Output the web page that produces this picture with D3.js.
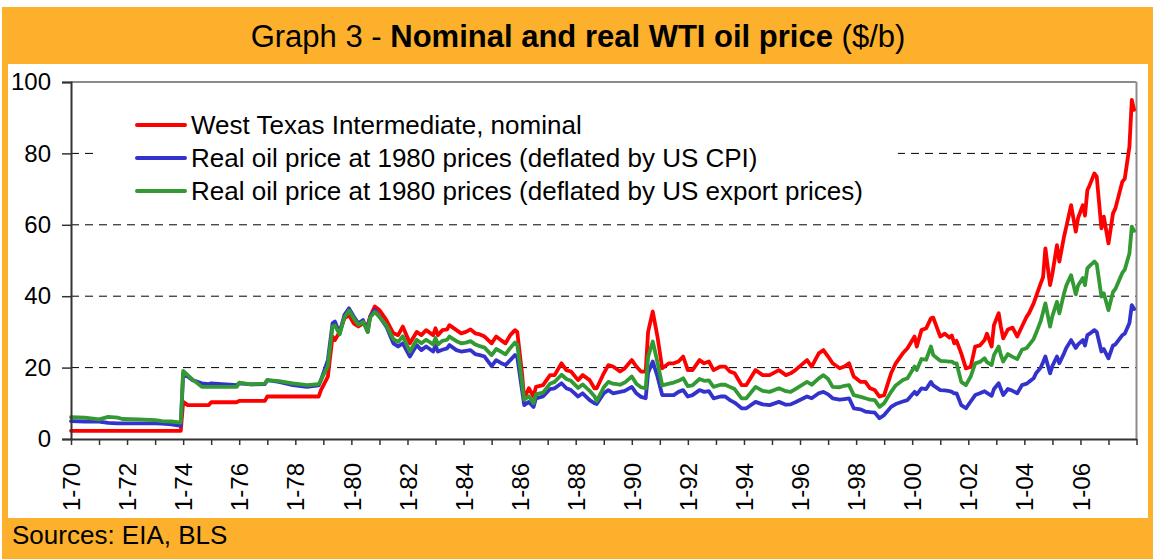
<!DOCTYPE html>
<html><head><meta charset="utf-8">
<script src="https://cdn.jsdelivr.net/npm/d3@7"></script>
<style>
html,body{margin:0;padding:0;background:#fff;}
text{font-family:"Liberation Sans",Arial,sans-serif;fill:#000;}
</style></head>
<body>
<svg id="chart" width="1155" height="559"></svg>
<script>
// ---- data ----
const dates = [
"1970-01","1970-07","1971-01","1971-05","1971-09","1971-11","1972-06","1973-01","1973-04","1973-08","1973-12",
"1974-01","1974-03","1974-05","1974-09","1974-12","1975-01","1975-12","1976-01","1976-06","1976-12",
"1977-01","1977-06","1977-12","1978-06","1978-11","1978-12",
"1979-03","1979-05","1979-06","1979-08","1979-10","1979-12","1980-02","1980-04","1980-06","1980-08","1980-09","1980-11",
"1981-01","1981-04","1981-07","1981-09","1981-11","1982-02","1982-05","1982-07","1982-09","1982-12",
"1983-01","1983-02","1983-04","1983-06","1983-07","1983-10","1983-12","1984-02","1984-04","1984-06","1984-08","1984-10",
"1985-01","1985-03","1985-05","1985-07","1985-09","1985-11","1985-12","1986-02","1986-03","1986-05","1986-07","1986-08","1986-11",
"1987-02","1987-04","1987-07","1987-09","1987-11","1988-02","1988-04","1988-07","1988-09","1988-10",
"1989-01","1989-03","1989-05","1989-08","1989-10","1990-01","1990-03","1990-05","1990-07","1990-08","1990-10","1990-12",
"1991-02","1991-05","1991-07","1991-09","1991-11","1992-01","1992-03","1992-06","1992-08","1992-10","1992-12",
"1993-03","1993-05","1993-07","1993-09","1993-12","1994-02","1994-06","1994-09","1994-12",
"1995-04","1995-07","1995-09","1995-11","1996-04","1996-06","1996-09","1996-11",
"1997-01","1997-03","1997-06","1997-08","1997-10","1997-12","1998-03","1998-05","1998-07","1998-09","1998-11",
"1999-01","1999-04","1999-06","1999-09","1999-11","2000-02","2000-03","2000-05","2000-07","2000-09","2000-10",
"2001-01","2001-03","2001-05","2001-06","2001-07","2001-08","2001-10","2001-12",
"2002-02","2002-04","2002-06","2002-08","2002-09","2002-11","2002-12",
"2003-02","2003-03","2003-04","2003-06","2003-08","2003-10","2003-12",
"2004-02","2004-03","2004-05","2004-06","2004-08","2004-09","2004-10","2004-12",
"2005-01","2005-03","2005-04","2005-06","2005-07","2005-09","2005-11","2005-12",
"2006-02","2006-03","2006-04","2006-05","2006-07","2006-08","2006-10","2006-11",
"2007-01","2007-03","2007-04","2007-07","2007-08","2007-10","2007-11","2007-12"
];
const wtiNominal = [
2.3,2.3,2.3,2.3,2.3,2.3,2.3,2.3,2.3,2.3,2.3,
10.4,9.5,9.5,9.5,9.5,10.3,10.3,10.7,10.7,10.7,
11.9,11.9,11.9,11.9,11.9,13.7,
17.5,28.7,27.7,30.0,33.8,34.7,32.4,31.5,32.4,31.8,34.3,37.1,
36.1,33.3,29.6,29.1,31.5,26.8,30.0,29.1,30.5,29.1,
31.0,29.1,30.5,30.7,31.9,30.5,29.6,30.0,30.7,29.6,29.3,28.7,
26.8,28.7,27.7,26.8,29.1,30.5,30.0,18.4,11.4,14.2,11.9,14.6,15.1,
17.9,17.9,21.2,19.3,18.9,16.5,17.9,16.5,14.2,14.2,
18.4,20.7,20.3,18.9,19.8,22.1,20.3,18.9,18.9,30.0,35.7,28.7,
19.8,21.2,21.2,21.7,23.1,19.3,19.3,22.1,21.2,21.7,19.3,
20.3,20.3,18.9,18.4,15.1,15.1,19.3,17.9,17.9,
19.3,17.9,18.4,19.3,22.1,20.3,24.0,24.9,
23.1,21.2,19.8,20.3,21.2,17.5,16.0,16.0,14.2,13.7,11.9,
12.3,18.4,21.2,24.0,25.4,28.7,25.9,30.5,31.0,33.8,34.0,
28.7,29.5,28.4,29.0,26.8,27.5,24.0,19.8,
20.2,25.9,26.2,27.7,29.5,25.9,31.9,
35.2,31.5,28.2,30.7,31.2,28.7,31.5,
34.3,35.2,38.0,39.9,43.6,45.3,53.4,43.1,
46.4,54.3,49.7,56.7,59.5,65.5,58.1,61.9,
65.5,62.6,69.7,71.1,74.4,73.5,59.0,62.3,
54.8,63.2,64.6,72.1,72.9,81.9,95.0,92.2
];
const realCPI = [
5.0,4.9,4.9,4.5,4.4,4.4,4.4,4.4,4.3,4.1,3.7,
18.3,17.5,16.5,15.6,15.4,15.6,15.1,15.6,15.3,15.4,
16.5,16.0,15.1,14.6,15.0,16.5,
22.1,32.4,32.9,29.6,34.7,36.6,34.3,32.4,33.3,30.0,34.3,36.1,
34.3,31.5,26.8,25.9,26.8,23.1,26.3,24.9,25.9,24.5,
26.3,24.5,25.0,25.4,26.3,24.9,24.5,24.7,24.9,23.8,23.5,23.1,
20.4,22.1,21.3,20.7,22.1,23.5,23.0,13.7,9.5,10.4,9.0,11.4,11.9,
14.0,14.2,15.6,14.2,13.7,11.9,12.8,10.9,10.0,9.8,
12.8,13.7,12.8,13.2,13.5,14.6,12.8,11.8,11.4,18.5,21.7,17.5,
12.3,12.3,12.3,13.2,13.7,11.9,12.3,13.7,13.2,13.4,11.4,
11.9,11.9,10.9,10.2,8.6,8.6,10.4,9.7,9.5,
10.4,9.6,9.7,10.3,11.9,11.4,12.8,13.2,
12.5,11.4,11.0,11.2,11.4,8.6,8.3,7.7,7.5,7.4,5.8,
6.7,9.0,9.8,10.5,10.9,13.2,12.5,14.2,14.0,16.0,15.0,
13.7,13.6,13.4,13.2,12.8,12.8,9.5,8.6,
10.5,12.3,12.8,13.4,12.9,12.1,14.0,
15.6,14.0,12.3,14.0,13.5,12.8,15.1,
15.5,16.0,17.0,18.4,20.0,21.5,23.1,18.4,
20.5,23.1,21.2,24.0,25.5,27.7,25.5,26.5,
27.7,26.2,29.1,29.5,30.5,30.0,24.5,25.2,
22.6,26.2,26.5,29.1,29.5,32.5,37.5,36.4
];
const realExport = [
6.1,6.0,5.5,6.2,6.0,5.6,5.5,5.3,5.0,4.9,4.6,
19.1,17.9,16.7,14.6,14.6,14.6,14.6,15.8,15.3,15.5,
16.5,16.2,15.6,15.1,15.4,16.5,
20.5,31.5,31.8,29.3,34.0,36.0,33.8,32.0,32.8,30.0,34.0,35.6,
34.2,31.8,28.0,27.2,28.8,24.5,27.8,26.8,27.8,26.5,
28.3,26.5,27.5,27.8,28.7,27.4,26.8,27.0,27.4,26.5,26.0,25.6,
23.5,25.2,24.5,23.7,25.5,27.0,26.5,15.8,11.0,12.0,10.0,12.5,13.0,
15.5,16.0,18.0,16.8,16.3,14.3,15.3,13.5,12.0,10.6,
14.5,16.0,15.5,15.2,15.8,17.5,15.5,14.5,14.2,23.0,27.3,21.5,
15.0,15.5,15.8,16.3,17.0,14.8,15.0,16.8,16.3,16.4,14.6,
15.2,15.2,14.6,14.0,11.4,11.4,14.6,13.5,13.2,
14.2,13.4,13.2,14.0,16.0,15.2,17.0,17.9,
16.8,14.6,14.5,14.9,15.1,12.3,11.8,11.4,11.0,10.9,9.0,
10.0,13.2,15.0,16.5,17.0,20.3,19.3,22.4,22.2,25.9,23.5,
21.9,21.8,21.7,21.7,21.2,21.2,16.0,15.1,
17.5,21.2,21.6,22.6,21.5,20.7,23.5,
25.9,23.5,21.7,23.8,23.0,22.4,25.0,
25.5,26.3,28.0,29.6,33.0,35.5,38.0,31.5,
34.5,38.4,35.2,40.8,43.0,45.9,40.5,43.0,
45.1,43.1,47.8,48.5,49.7,49.0,39.9,40.8,
36.1,41.2,42.0,46.6,47.4,52.0,59.5,58.3
];
const seriesNames = [
"West Texas Intermediate, nominal",
"Real oil price at 1980 prices (deflated by US CPI)",
"Real oil price at 1980 prices (deflated by US export prices)"
];
const seriesColors = ["#ff0000","#3333cc","#339933"];
const yTicks = [0,20,40,60,80,100];
const gridValues = [20,40,60,80];

// ---- drawing ----
const svg = d3.select("#chart");
const W = 1155, H = 559;
const orange = "#fcb02b";

svg.append("rect").attr("x",0).attr("y",0).attr("width",W).attr("height",H).attr("fill","#fff");
svg.append("rect").attr("x",2).attr("y",7).attr("width",1151).attr("height",552).attr("fill",orange);
svg.append("rect").attr("x",8).attr("y",64).attr("width",1140).attr("height",454).attr("fill","#fff");

// title
const title = svg.append("text").attr("x",578).attr("y",47).attr("text-anchor","middle")
  .style("font-size","31px");
title.append("tspan").text("Graph 3 - ");
title.append("tspan").style("font-weight","bold").text("Nominal and real WTI oil price");
title.append("tspan").text(" ($/b)");

// sources
svg.append("text").attr("x",12).attr("y",544).style("font-size","26px").text("Sources: EIA, BLS");

const parse = d3.timeParse("%Y-%m");
const dts = dates.map(parse);
const pLeft = 71, pRight = 1136.5, pTop = 82, pBottom = 439;
const x = d3.scaleTime().domain([new Date(1970,0,1), new Date(2008,0,1)]).range([pLeft,pRight]);
const y = d3.scaleLinear().domain([0,100]).range([pBottom,pTop]);

// gridlines
svg.append("g").selectAll("line").data(gridValues).join("line")
  .attr("x1",pLeft).attr("x2",pRight).attr("y1",d=>y(d)).attr("y2",d=>y(d))
  .attr("stroke","#000").attr("stroke-width",1).attr("stroke-dasharray","8,6");

// frame top & right
svg.append("line").attr("x1",pLeft).attr("x2",pRight).attr("y1",pTop).attr("y2",pTop).attr("stroke","#8c8c8c").attr("stroke-width",2);
svg.append("line").attr("x1",pRight).attr("x2",pRight).attr("y1",pTop).attr("y2",pBottom).attr("stroke","#8c8c8c").attr("stroke-width",2);

// legend background (hides gridline)
svg.append("rect").attr("x",97).attr("y",100).attr("width",801).attr("height",110).attr("fill","#fff");

// lines
const seriesData = [wtiNominal, realCPI, realExport];
const line = d3.line().x((d,i)=>x(dts[i])).y(d=>y(d));
seriesData.forEach((vals,k)=>{
  svg.append("path").datum(vals).attr("d",line).attr("fill","none")
    .attr("stroke",seriesColors[k]).attr("stroke-width",3.8)
    .attr("stroke-linejoin","round").attr("stroke-linecap","round");
});

// y axis
const yAxis = d3.axisLeft(y).tickValues(yTicks).tickSize(9).tickPadding(11).tickFormat(d3.format("d"));
const gy = svg.append("g").attr("transform",`translate(${pLeft},0)`).call(yAxis);
gy.select(".domain").attr("stroke","#333").attr("stroke-width",2);
gy.selectAll(".tick line").attr("stroke","#333").attr("stroke-width",1.5);
gy.selectAll("text").style("font-size","24px").attr("font-family","Liberation Sans, Arial, sans-serif").attr("fill","#000");

// x axis
const xAxis = d3.axisBottom(x).ticks(d3.timeYear.every(1)).tickSize(6).tickSizeOuter(0)
  .tickFormat(d => (d.getFullYear()%2===0 && d.getFullYear()<2008) ? "1-" + String(d.getFullYear()).slice(2) : "");
const gx = svg.append("g").attr("transform",`translate(0,${pBottom})`).call(xAxis);
gx.select(".domain").attr("stroke","#333").attr("stroke-width",2);
gx.selectAll(".tick line").attr("stroke","#333").attr("stroke-width",1.5);
gx.selectAll("text").style("font-size","24px").attr("font-family","Liberation Sans, Arial, sans-serif").attr("fill","#000")
  .attr("text-anchor","end").attr("transform","rotate(-90)")
  .attr("x",-24).attr("y",0).attr("dy","0.36em");

// legend
const legY = [125, 158, 191];
seriesNames.forEach((name,k)=>{
  svg.append("line").attr("x1",137).attr("x2",185).attr("y1",legY[k]).attr("y2",legY[k])
    .attr("stroke",seriesColors[k]).attr("stroke-width",4).attr("stroke-linecap","round");
  svg.append("text").attr("x",191).attr("y",legY[k]).attr("dy","0.36em").style("font-size","26px").text(name);
});
</script>
</body></html>
